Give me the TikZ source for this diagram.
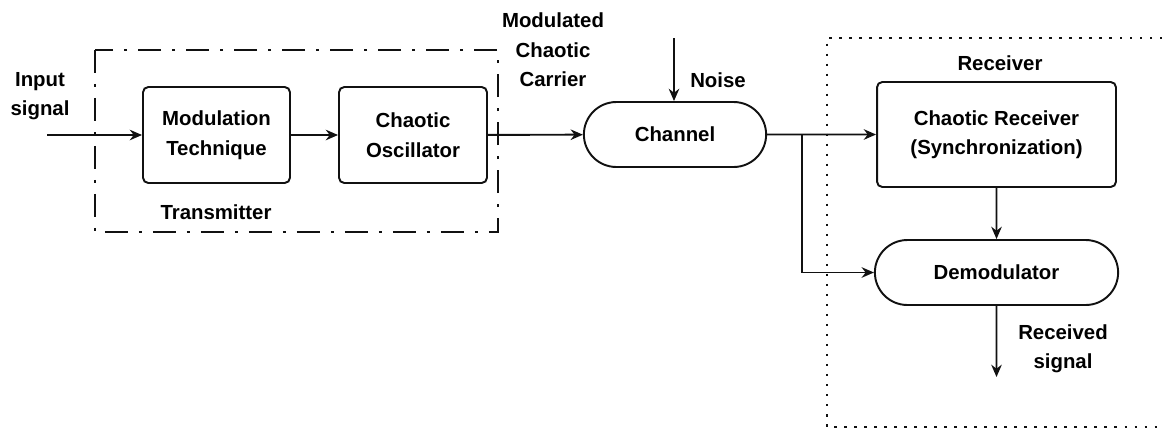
\documentclass[tikz,border=0pt]{standalone}
\usepackage{fontspec}
\setmainfont{Liberation Sans}
\usepackage{xcolor}
\usepackage{tikz}
\usetikzlibrary{shapes.misc,arrows.meta}
\definecolor{LinkBlack}{HTML}{111111}
\tikzset{
    blockbox/.style={draw=LinkBlack, line width=1.1pt, rounded corners=3pt, align=center},
    pillbox/.style={draw=LinkBlack, line width=1.1pt, rounded rectangle, align=center},
    tag/.style={align=center},
    sigline/.style={LinkBlack, line width=1.1pt, -{Stealth[length=7pt,width=6pt]}}
}

\begin{document}
\begin{tikzpicture}[x=0.02cm, y=-0.02cm, font=\fontsize{11.6}{16.8}\selectfont\bfseries]
        \useasboundingbox (0,0) rectangle (1162,430);
        \draw[LinkBlack, line width=1.1pt, dash pattern=on 0.46cm off 0.22cm on 0.06cm off 0.22cm] (95,50) rectangle (498,232);
        \draw[LinkBlack, line width=1.1pt, dash pattern=on 1.4pt off 4.3pt] (1162,38) -- (827,38) -- (827,427) -- (1162,427);
        \node[blockbox, minimum width=2.94cm, minimum height=1.92cm] (modtech) at (216.5,135) {Modulation\\Technique};
        \node[blockbox, minimum width=2.96cm, minimum height=1.92cm] (chaosc) at (413,135) {Chaotic\\Oscillator};
        \node[pillbox, minimum width=3.88cm, minimum height=1.3cm] (channel) at (675,134.5) {Channel};
        \node[blockbox, minimum width=4.78cm, minimum height=2.1cm] (chaorx) at (996.5,134.5) {Chaotic Receiver\\(Synchronization)};
        \node[pillbox, minimum width=5.1cm, minimum height=1.3cm] (demod) at (996.5,272.5) {Demodulator};
        \node[tag] (inputlbl) at (40,96) {Input\\signal};
        \node[tag] (carrierlbl) at (553,50) {Modulated\\Chaotic\\Carrier};
        \node[tag] (noiselbl) at (718,80) {Noise};
        \node[tag] (txlbl) at (216,212) {Transmitter};
        \node[tag] (rxlbl) at (1000,63) {Receiver};
        \node[tag] (rxsiglbl) at (1063,349) {Received\\signal};
        \coordinate (inputpt) at (47,135);
        \coordinate (noisept) at (674,38);
        \coordinate (splitpt) at (802,134.5);
        \coordinate (outpt) at (996.5,377);
        \draw[sigline] (inputpt) -- (modtech);
        \draw[sigline] (modtech) -- (chaosc);
        \draw[sigline] (chaosc) -- (channel);
        \draw[sigline] (noisept) -- (noisept |- channel.north);
        \draw[sigline] (channel) -- (chaorx);
        \draw[sigline] (splitpt) |- (demod);
        \draw[sigline] (chaorx) -- (demod);
        \draw[sigline] (demod) -- (outpt);
    \end{tikzpicture}
\end{document}
